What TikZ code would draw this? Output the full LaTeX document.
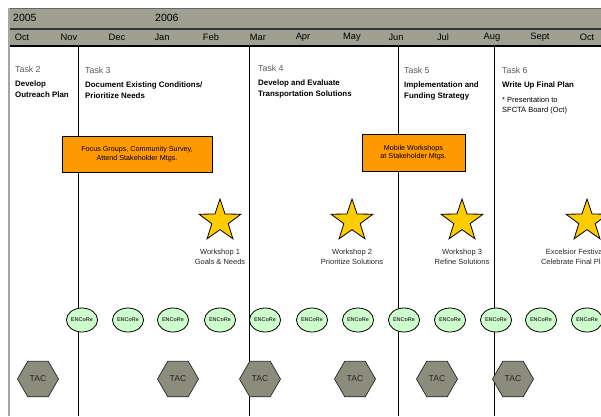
\documentclass[tikz,border=0pt]{standalone}
\usepackage{fontspec}
\setmainfont{Liberation Sans}
\usetikzlibrary{shapes.geometric}
\definecolor{hdrgray}{RGB}{160,160,146}
\definecolor{tacgray}{RGB}{140,140,124}
\definecolor{boxorange}{RGB}{255,153,0}
\definecolor{staryellow}{RGB}{255,204,0}
\definecolor{encgreen}{RGB}{204,255,204}
\definecolor{tasktext}{RGB}{90,90,90}
\begin{document}
\begin{tikzpicture}[x=1pt,y=-1pt]
        \tikzset{
          tasklabel/.style={anchor=north west,inner sep=0pt,text=tasktext,font=\fontsize{8.8}{10}\selectfont},
          tasktitle/.style={anchor=north west,inner sep=0pt,align=left,font=\bfseries\fontsize{7.9}{10.8}\selectfont},
          monthlabel/.style={inner sep=0pt,font=\fontsize{9.3}{10}\selectfont},
          outreach/.style={draw=black,line width=0.9pt,fill=boxorange,align=center,inner sep=0pt,font=\fontsize{7.2}{8.5}\selectfont},
          workshop/.style={star,star points=5,star point ratio=2.55,draw=black,line width=0.8pt,fill=staryellow,minimum size=44pt,inner sep=0pt},
          wslabel/.style={align=center,inner sep=0pt,text=black!85,font=\fontsize{7.5}{10.5}\selectfont},
          encore/.style={ellipse,draw=black,line width=0.8pt,fill=encgreen,minimum width=31pt,minimum height=24pt,inner sep=0pt,text=black!75,font=\bfseries\fontsize{5.5}{6}\selectfont},
          tac/.style={regular polygon,regular polygon sides=6,draw=black!85,line width=0.7pt,fill=tacgray,minimum size=41pt,inner sep=0pt,text=black!85,font=\fontsize{8.6}{9}\selectfont},
        }
        \useasboundingbox (0,0) rectangle (601,416);
        %HEADER
        \fill[hdrgray] (9,8) rectangle (601,46);
        \draw[black!60,line width=1pt] (9,8) -- (601,8);
        \draw[black!80,line width=1.2pt] (9,29) -- (601,29);
        \draw[black,line width=1.6pt] (9,46) -- (601,46);
        \draw[black!35,line width=1.5pt] (9,8) -- (9,416);
        \node[monthlabel,anchor=west,font=\fontsize{10.5}{11}\selectfont] (y2005) at (13,18) {2005};
        \node[monthlabel,anchor=west,font=\fontsize{10.5}{11}\selectfont] (y2006) at (155,18) {2006};
        \foreach \m/\x [count=\i] in {Oct/22,Nov/69,Dec/117,Jan/162,Feb/211,Mar/258,Apr/303,May/352,Jun/396,Jul/443,Aug/492,Sept/540,Oct/587}{
            \node[monthlabel] (m\i) at (\x,37) {\m};
        }
        %TASK DIVIDERS
        \foreach \x in {78,249,398,494}{
            \draw[black,line width=1pt] (\x,46) -- (\x,416);
        }
        %TASKS
        \node[tasklabel] (t2) at (15,66) {Task 2};
        \node[tasklabel] (t3) at (85,67) {Task 3};
        \node[tasklabel] (t4) at (258,65) {Task 4};
        \node[tasklabel] (t5) at (404,67) {Task 5};
        \node[tasklabel] (t6) at (502,67) {Task 6};
        \node[tasktitle] (t2a) at (15,81) {Develop\\Outreach Plan};
        \node[tasktitle] (t3a) at (85,82) {Document Existing Conditions/\\Prioritize Needs};
        \node[tasktitle] (t4a) at (258,80) {Develop and Evaluate\\Transportation Solutions};
        \node[tasktitle] (t5a) at (404,82) {Implementation and\\Funding Strategy};
        \node[tasktitle] (t6a) at (502,82) {Write Up Final Plan};
        \node[anchor=north west,inner sep=0pt,align=left,font=\fontsize{7.5}{9.8}\selectfont] (t6b) at (502,97) {* Presentation to\\SFCTA Board (Oct)};
        %OUTREACH BOXES
        \node[outreach,minimum width=150pt,minimum height=36pt] (focus) at (137,154) {Focus Groups, Community Survey,\\Attend Stakeholder Mtgs.};
        \node[outreach,minimum width=103pt,minimum height=37pt] (mobile) at (413.5,152.5) {Mobile Workshops\\at Stakeholder Mtgs.};
        %WORKSHOPS
        \foreach \x/\lx/\t [count=\i] in {220/220/{Workshop 1\\Goals \& Needs},352/352/{Workshop 2\\Prioritize Solutions},462/462/{Workshop 3\\Refine Solutions},587/575/{Excelsior Festival\\Celebrate Final Plan}}{
            \node[workshop] (ws\i) at (\x,221) {};
            \node[wslabel] (wl\i) at (\lx,257) {\t};
        }
        %ENCORE MEETINGS
        \foreach \x [count=\i] in {82,128,173,220,265,312,358,404,450,496,541,587}{
            \node[encore] (enc\i) at (\x,320) {ENCoRe};
        }
        %TAC MEETINGS
        \foreach \x [count=\i] in {38,178,260,355,437,513}{
            \node[tac] (tac\i) at (\x,379) {TAC};
        }
    \end{tikzpicture}
\end{document}
